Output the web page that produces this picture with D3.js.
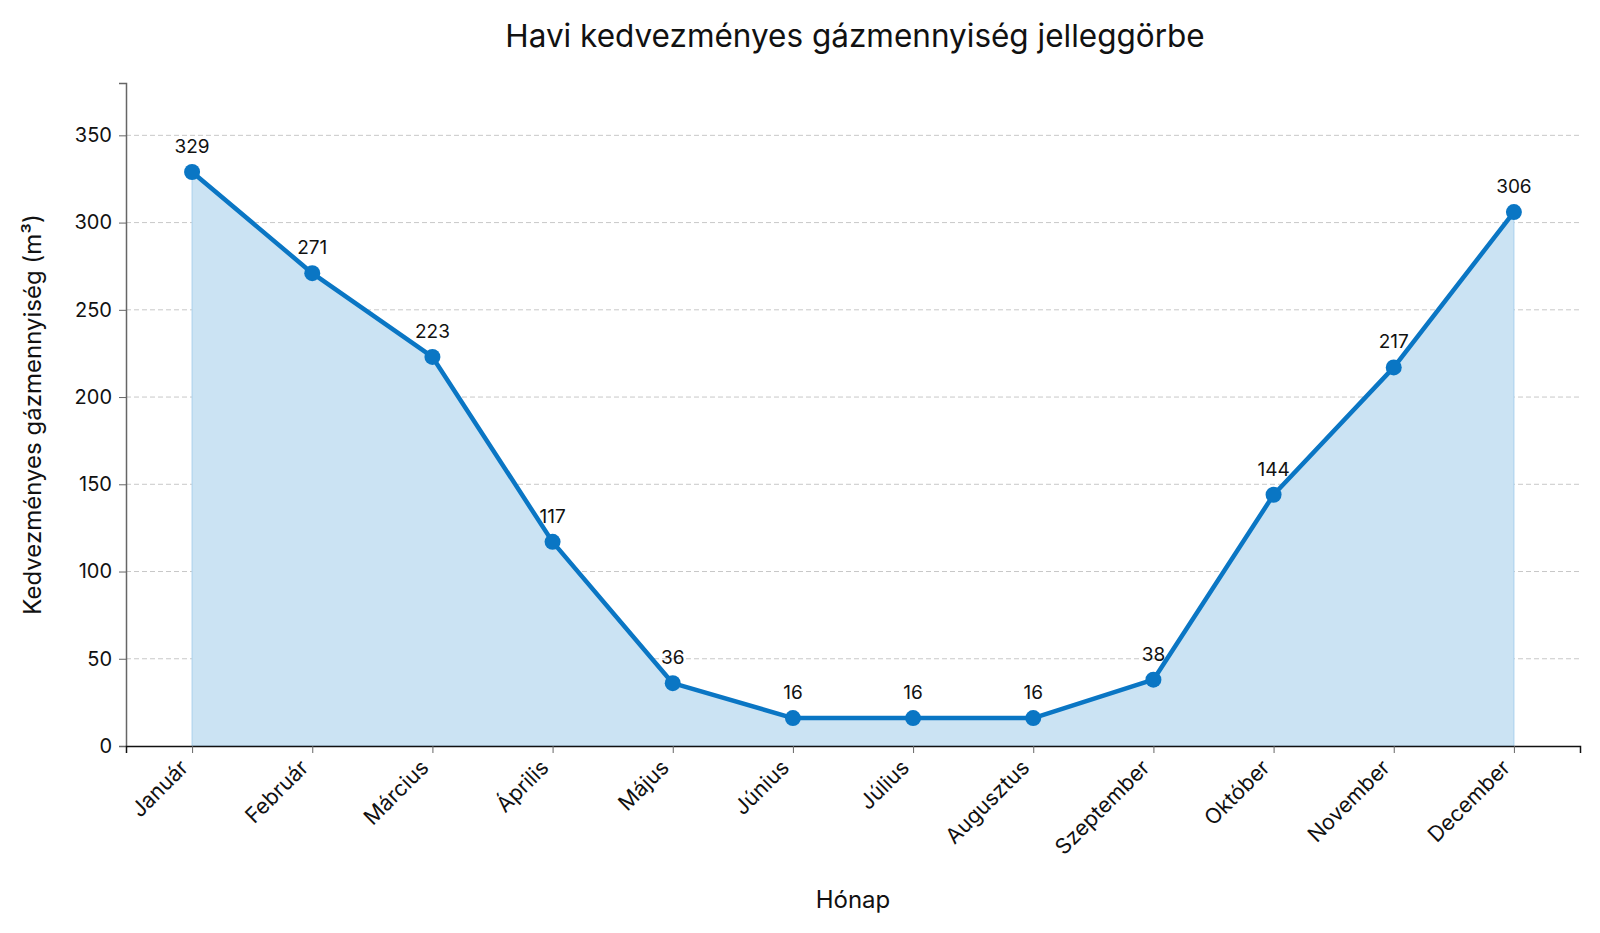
<!DOCTYPE html>
<html lang="hu">
<head>
  <meta charset="UTF-8">
  <title>Havi kedvezményes gázmennyiség jelleggörbe</title>
  <script src="https://cdn.jsdelivr.net/npm/d3@7/dist/d3.min.js"></script>
  <style>
    body{ margin:0; background:#fff; }
    svg text{ font-family: Inter, "Noto Sans", sans-serif; }
  </style>
</head>
<body>
<div class="chart"></div>
<script>
const months = ['Január','Február','Március','Április','Május','Június','Július','Augusztus','Szeptember','Október','November','December'];
const values = [329, 271, 223, 117, 36, 16, 16, 16, 38, 144, 217, 306];
const yTicks = [0, 50, 100, 150, 200, 250, 300, 350];

const bxSize = {w:1600, h:933};
const margin = {top:83, right:20, bottom:187, left:126};
const [width, height] = [bxSize.w - margin.left - margin.right, bxSize.h - margin.top - margin.bottom];

const svg = d3.select('.chart').append('svg')
  .attr('width', bxSize.w).attr('height', bxSize.h)
  .append('g')
  .attr('transform', `translate(${margin.left} ${margin.top})`);

const x = d3.scaleLinear().domain([-0.55, months.length - 1 + 0.55]).range([0, width]);
const y = d3.scaleLinear().domain([0, 380]).range([height, 0]);

// grid
svg.append('g').selectAll('line').data(yTicks.slice(1)).join('line')
  .attr('x1', 0).attr('x2', width)
  .attr('y1', d => y(d)).attr('y2', d => y(d))
  .attr('stroke', '#c8c8c8').attr('stroke-width', 1).attr('stroke-dasharray', '5,3');

// area
const area = d3.area().x((d, i) => x(i)).y0(y(0)).y1(d => y(d));
svg.append('path').datum(values).attr('d', area)
  .attr('fill', '#cbe3f3').attr('stroke', '#a9d0ec').attr('stroke-width', 1);

// line + points
const line = d3.line().x((d, i) => x(i)).y(d => y(d));
svg.append('path').datum(values).attr('d', line)
  .attr('fill', 'none').attr('stroke', '#0a76c4').attr('stroke-width', 4.5).attr('stroke-linejoin', 'round');

svg.append('g').selectAll('circle').data(values).join('circle')
  .attr('cx', (d, i) => x(i)).attr('cy', d => y(d)).attr('r', 8).attr('fill', '#0a76c4');

svg.append('g').selectAll('text').data(values).join('text')
  .attr('x', (d, i) => x(i)).attr('y', d => y(d) - 19)
  .attr('text-anchor', 'middle').attr('font-size', 19).attr('fill', '#111')
  .text(d => d);

// axes
const yAxis = svg.append('g').call(d3.axisLeft(y).tickValues(yTicks).tickSize(7).tickPadding(7));
yAxis.select('.domain').attr('stroke', '#666').attr('stroke-width', 1.5);
yAxis.selectAll('.tick line').attr('stroke', '#666');
yAxis.selectAll('.tick text').attr('font-size', 20).attr('fill', '#111').style('font-family', 'Inter, sans-serif');

const xAxis = svg.append('g').attr('transform', `translate(0, ${height})`)
  .call(d3.axisBottom(x).tickValues(d3.range(months.length)).tickFormat(i => months[i]).tickSize(7));
xAxis.select('.domain').attr('stroke', '#111').attr('stroke-width', 1.5);
xAxis.selectAll('.tick line').attr('stroke', '#666');
xAxis.selectAll('.tick text')
  .attr('font-size', 21.5).attr('fill', '#111').style('font-family', 'Inter, sans-serif')
  .attr('text-anchor', 'end').attr('dy', null).attr('y', 0)
  .attr('transform', 'translate(-3, 23) rotate(-45)');

// titles
svg.append('text').attr('x', 855 - margin.left).attr('y', 47 - margin.top)
  .attr('text-anchor', 'middle').attr('font-size', 31.5).attr('fill', '#111')
  .text('Havi kedvezményes gázmennyiség jelleggörbe');

svg.append('text').attr('x', 853 - margin.left).attr('y', 908 - margin.top)
  .attr('text-anchor', 'middle').attr('font-size', 24).attr('fill', '#111')
  .text('Hónap');

svg.append('text').attr('transform', `translate(${41 - margin.left} ${height / 2}) rotate(-90)`)
  .attr('text-anchor', 'middle').attr('font-size', 24).attr('fill', '#111')
  .text('Kedvezményes gázmennyiség (m³)');
</script>
</body>
</html>
